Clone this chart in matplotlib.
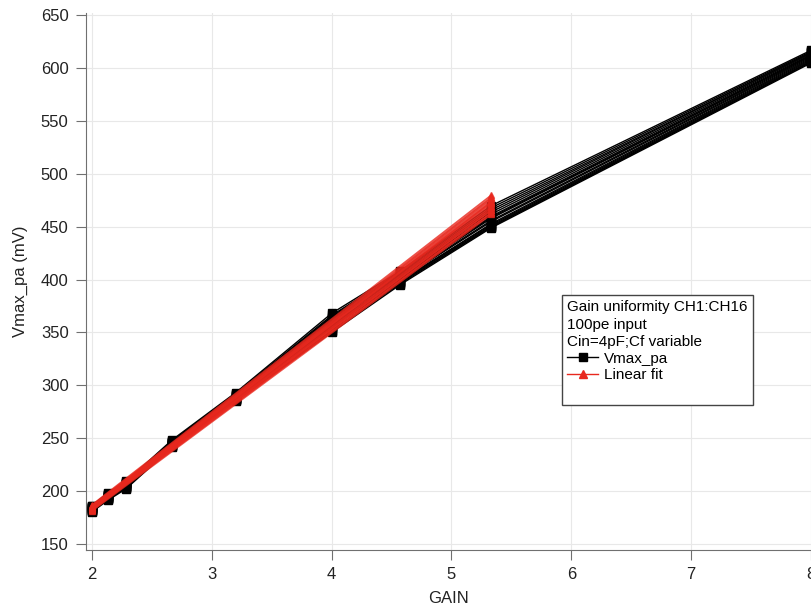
import numpy as np
import matplotlib
matplotlib.use("Agg")
import matplotlib.pyplot as plt
from matplotlib.lines import Line2D

plt.rcParams["font.family"] = ["Liberation Sans", "DejaVu Sans"]

# gain = Cin / Cf, Cin = 4 pF
gain = [2.0, 2.133, 2.286, 2.667, 3.2, 4.0, 4.571, 5.333, 8.0]

# Vmax_pa (mV) per channel CH1..CH16
vmax = [
    [182, 193, 204, 243, 287, 356, 399, 452, 608],
    [184, 195, 206, 245, 290, 362, 403, 460, 613],
    [181, 192, 203, 242, 286, 352, 396, 450, 606],
    [185, 196, 207, 246, 291, 364, 405, 464, 615],
    [183, 194, 205, 244, 288, 358, 401, 456, 611],
    [186, 197, 208, 247, 292, 366, 407, 468, 616],
    [182, 193, 205, 243, 287, 355, 398, 453, 609],
    [184, 195, 206, 245, 289, 360, 402, 458, 612],
    [180, 191, 202, 241, 285, 350, 395, 449, 605],
    [185, 196, 207, 246, 290, 363, 404, 462, 614],
    [183, 194, 205, 244, 288, 357, 400, 455, 610],
    [186, 198, 209, 248, 293, 368, 408, 470, 617],
    [182, 193, 204, 243, 287, 354, 398, 451, 607],
    [184, 195, 206, 245, 289, 361, 403, 459, 612],
    [181, 192, 203, 242, 286, 351, 397, 450, 606],
    [185, 196, 207, 246, 291, 365, 406, 466, 615],
]

fit_npts = 7          # fit over gains up to 4.57
fit_range = (2.0, 5.333)

fig = plt.figure(figsize=(8.11, 6.07), dpi=100)
ax = fig.add_axes([0.106, 0.094, 0.894, 0.884])

g = np.array(gain)
for row in vmax:
    ax.plot(g, row, color="black", lw=1.0, marker="s", ms=6, zorder=2)

xf = np.linspace(fit_range[0], fit_range[1], 50)
for row in vmax:
    p = np.polyfit(g[:fit_npts], np.array(row[:fit_npts]), 1)
    ax.plot(xf, np.polyval(p, xf), color="#e8281e", lw=1.2, alpha=0.8,
            marker="^", ms=4, markevery=[0, len(xf) - 1], zorder=3)

ax.set_xlim(1.95, 8.0)
ax.set_ylim(144, 652)
ax.set_xticks(range(2, 9))
ax.set_yticks(range(150, 651, 50))
ax.grid(True, color="#e8e8e8", lw=0.8)
ax.set_axisbelow(True)

for s in ["top", "right"]:
    ax.spines[s].set_visible(False)
for s in ["left", "bottom"]:
    ax.spines[s].set_color("#707070")
ax.tick_params(direction="out", length=7.5, color="#707070", labelsize=12,
               labelcolor="#222222", pad=5)

ax.set_xlabel("GAIN", fontsize=12, color="#222222", labelpad=6)
ax.set_ylabel("Vmax_pa (mV)", fontsize=12, color="#222222", labelpad=9)

handles = [
    Line2D([], [], color="black", lw=1.0, marker="s", ms=6),
    Line2D([], [], color="#e8281e", lw=1.0, marker="^", ms=6),
    Line2D([], [], linestyle="none"),
]
leg = ax.legend(handles, ["Vmax_pa", "Linear fit", " "],
                title="Gain uniformity CH1:CH16\n100pe input\nCin=4pF;Cf variable",
                loc="upper left", bbox_to_anchor=(562 / 811, 1 - 295 / 607),
                bbox_transform=fig.transFigure, fontsize=11, title_fontsize=11,
                frameon=True, fancybox=False, borderpad=0.35, labelspacing=0.18,
                handlelength=2.0, handletextpad=0.4, borderaxespad=0)
leg._legend_box.align = "left"
leg.get_title().set_linespacing(1.3)
leg.get_frame().set_edgecolor("#444444")
leg.get_frame().set_linewidth(1.0)
leg.get_frame().set_alpha(1)

fig.savefig("out.png", dpi=100)
